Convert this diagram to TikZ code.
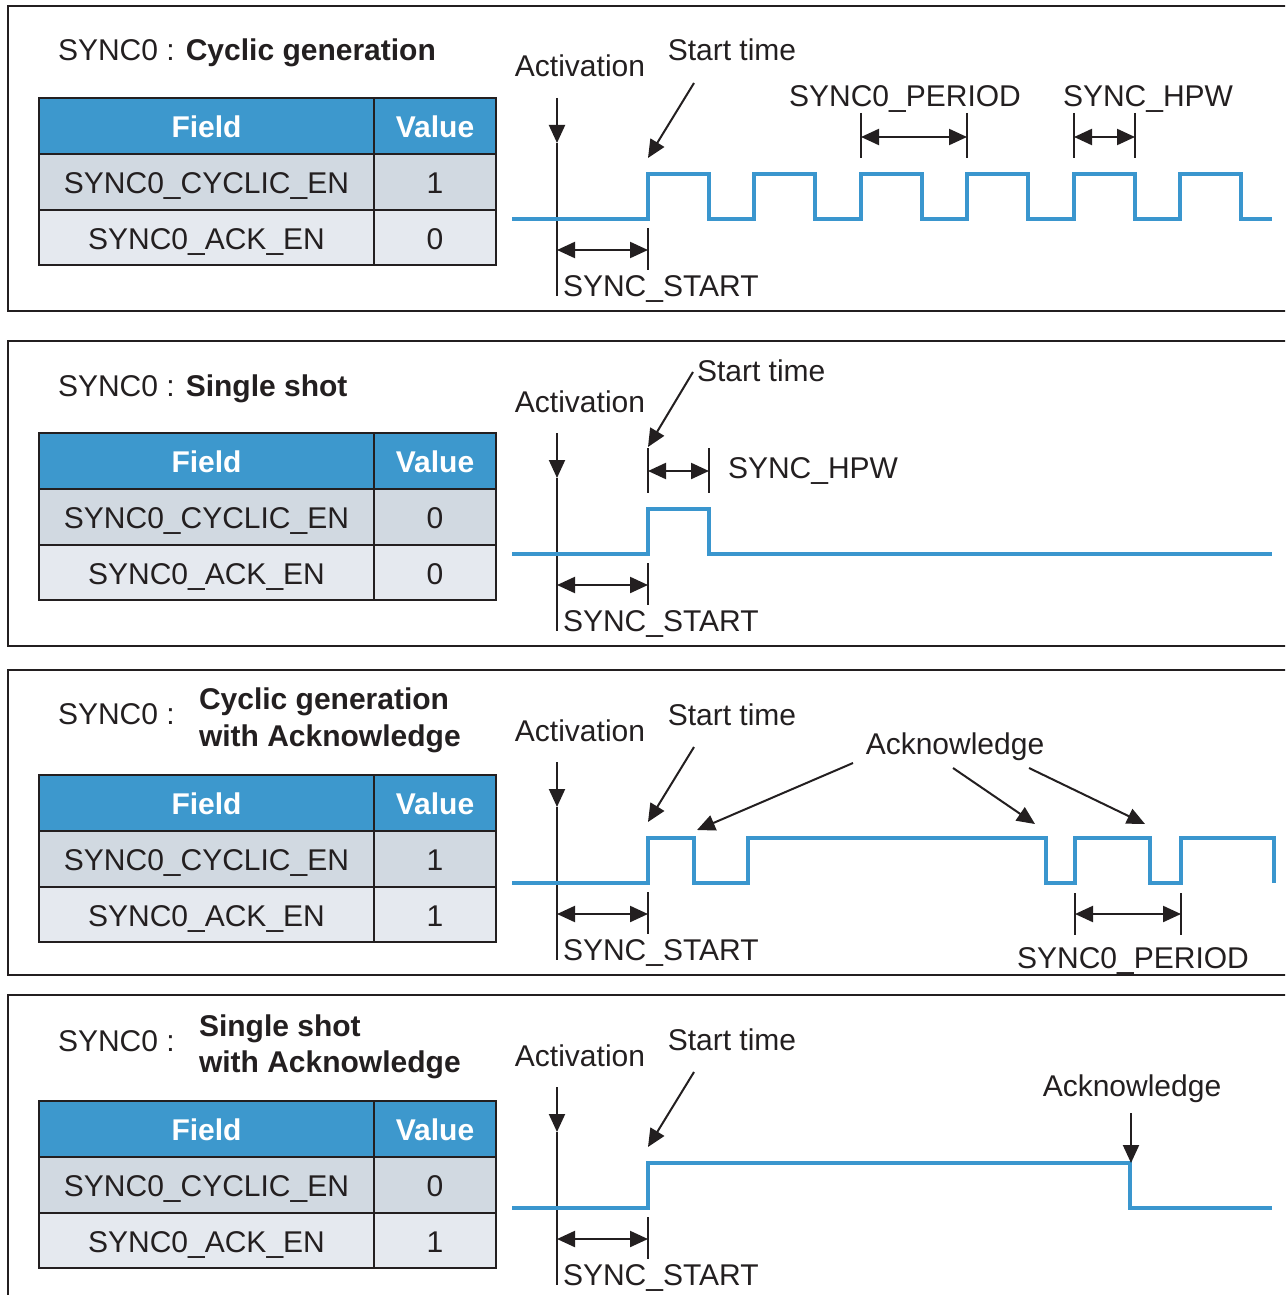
\documentclass[tikz,border=0pt]{standalone}
\usepackage{fontspec}
\setmainfont{Liberation Sans}
\usetikzlibrary{arrows.meta}
\definecolor{hdrblue}{RGB}{61,152,205}
\definecolor{rowdark}{RGB}{209,217,225}
\definecolor{rowlight}{RGB}{229,233,239}
\definecolor{sigblue}{RGB}{58,150,206}
\definecolor{inkgray}{RGB}{35,31,32}

\begin{document}
\begin{tikzpicture}[x=0.5pt,y=-0.5pt]
\tikzstyle{frame}=[line width=1.3pt,draw=inkgray]
\tikzstyle{cell}=[line width=1.4pt,draw=inkgray]
\tikzstyle{signal}=[line width=2pt,draw=sigblue]
\tikzstyle{pointer}=[line width=1pt,draw=inkgray,-{Triangle[length=9pt,width=8pt]}]
\tikzstyle{span}=[line width=1.1pt,draw=inkgray,{Triangle[length=9pt,width=8pt]}-{Triangle[length=9pt,width=8pt]}]
\tikzstyle{tick}=[line width=0.8pt,draw=inkgray]
\tikzstyle{txt}=[inner sep=0pt,outer sep=0pt,text=inkgray,font=\fontsize{15}{18}\selectfont]

\useasboundingbox (0,0) rectangle (1285,1295);
\clip (0,0) rectangle (1285,1295);

% frame, activation and SYNC_START are the same in every panel
\foreach \o in {0,335,664,989}{
\begin{scope}[shift={(0,\o)}]
	\draw[frame] (1290,6) -- (8,6) -- (8,311) -- (1290,311);
	\node[txt,anchor=base] (act\o) at (580,77) {Activation};
	\coordinate (acttop\o) at (557,98);
	\coordinate (acttip\o) at (557,143);
	\coordinate (actbot\o) at (557,296);
	\draw[pointer] (acttop\o) -- (acttip\o);
	\draw[tick] (acttip\o) -- (actbot\o);
	\coordinate (actmid\o) at (557,250);
	\coordinate (go\o) at (648,250);
	\draw[tick] (648,228) -- (648,270);
	\draw[span] (actmid\o) -- (go\o);
	\node[txt,anchor=base west] (start\o) at (563,296) {SYNC\_START};
\end{scope}
}

\foreach \o in {0,664,989}{
\begin{scope}[shift={(0,\o)}]
	\node[txt,anchor=base] (stime\o) at (732,61) {Start time};
	\coordinate (stfrom\o) at (694,83);
	\coordinate (stto\o) at (648,158);
	\draw[pointer] (stfrom\o) -- (stto\o);
\end{scope}
}

% tables
\foreach \t/\cyc/\ack in {0/1/0,335/0/0,677/1/1,1003/0/1}{
\begin{scope}[shift={(0,\t)}]
	\fill[hdrblue] (39,98) rectangle (496,154);
	\fill[rowdark] (39,154) rectangle (496,210);
	\fill[rowlight] (39,210) rectangle (496,265);
	\draw[cell] (39,98) rectangle (496,265);
	\draw[cell] (39,154) -- (496,154) (39,210) -- (496,210) (374,98) -- (374,265);
	\node[txt,anchor=base,text=white,font=\fontsize{15}{18}\selectfont\bfseries] (field\t) at (206.5,137) {Field};
	\node[txt,anchor=base,text=white,font=\fontsize{15}{18}\selectfont\bfseries] (value\t) at (435,137) {Value};
	\node[txt,anchor=base] (cycname\t) at (206.5,193) {SYNC0\_CYCLIC\_EN};
	\node[txt,anchor=base] (cycval\t) at (435,193) {\cyc};
	\node[txt,anchor=base] (ackname\t) at (206.5,249) {SYNC0\_ACK\_EN};
	\node[txt,anchor=base] (ackval\t) at (435,249) {\ack};
\end{scope}
}

% panel 1 : cyclic generation
\node[txt,anchor=base west] (title1) at (58,61) {SYNC0 : \textbf{Cyclic generation}};
\draw[signal] plot[] coordinates {(512,219) (648,219) (648,174) (709,174) (709,219) (754,219) (754,174) (815,174) (815,219) (861,219) (861,174) (922,174) (922,219) (967,219) (967,174) (1028,174) (1028,219) (1074,219) (1074,174) (1135,174) (1135,219) (1180,219) (1180,174) (1241,174) (1241,219) (1272,219)};
\node[txt,anchor=base] (period1) at (905,107) {SYNC0\_PERIOD};
\draw[tick] (861,113) -- (861,158) (967,113) -- (967,158);
\coordinate (pa1) at (861,137);
\coordinate (pb1) at (967,137);
\draw[span] (pa1) -- (pb1);
\node[txt,anchor=base] (hpw1) at (1148,107) {SYNC\_HPW};
\draw[tick] (1074,113) -- (1074,158) (1135,113) -- (1135,158);
\coordinate (ha1) at (1074,137);
\coordinate (hb1) at (1135,137);
\draw[span] (ha1) -- (hb1);

% panel 2 : single shot
\begin{scope}[shift={(0,335)}]
	\node[txt,anchor=base west] (title2) at (58,61) {SYNC0 : \textbf{Single shot}};
	\node[txt,anchor=base west] (stime2) at (697,46) {Start time};
	\coordinate (stfrom2) at (693,37);
	\coordinate (stto2) at (648,112);
	\draw[pointer] (stfrom2) -- (stto2);
	\draw[signal] plot[] coordinates {(512,219) (648,219) (648,174) (709,174) (709,219) (1272,219)};
	\draw[tick] (648,113) -- (648,158) (709,113) -- (709,158);
	\coordinate (ha2) at (648,136);
	\coordinate (hb2) at (709,136);
	\draw[span] (ha2) -- (hb2);
	\node[txt,anchor=base west] (hpw2) at (728,143) {SYNC\_HPW};
\end{scope}

% panel 3 : cyclic generation with acknowledge
\begin{scope}[shift={(0,664)}]
	\node[txt,anchor=base west] (title3) at (58,60) {SYNC0 :};
	\node[txt,anchor=base west,font=\fontsize{15}{18}\selectfont\bfseries] (mode3a) at (199,45) {Cyclic generation};
	\node[txt,anchor=base west,font=\fontsize{15}{18}\selectfont\bfseries] (mode3b) at (199,82) {with Acknowledge};
	\draw[signal] plot[] coordinates {(512,219) (648,219) (648,174) (694,174) (694,219) (748,219) (748,174) (1046,174) (1046,219) (1075,219) (1075,174) (1150,174) (1150,219) (1181,219) (1181,174) (1274,174) (1274,219)};
	\node[txt,anchor=base] (ack3) at (955,90) {Acknowledge};
	\coordinate (ackA) at (853,99);
	\coordinate (ackB) at (953,104);
	\coordinate (ackC) at (1029,104);
	\coordinate (fallA) at (697,166);
	\coordinate (fallB) at (1035,160);
	\coordinate (fallC) at (1145,160);
	\draw[pointer] (ackA) -- (fallA);
	\draw[pointer] (ackB) -- (fallB);
	\draw[pointer] (ackC) -- (fallC);
	\draw[tick] (1075,229) -- (1075,271) (1181,229) -- (1181,271);
	\coordinate (pa3) at (1075,250);
	\coordinate (pb3) at (1181,250);
	\draw[span] (pa3) -- (pb3);
	\node[txt,anchor=base] (period3) at (1133,304) {SYNC0\_PERIOD};
\end{scope}

% panel 4 : single shot with acknowledge
\begin{scope}[shift={(0,989)}]
	\node[txt,anchor=base west] (title4) at (58,62) {SYNC0 :};
	\node[txt,anchor=base west,font=\fontsize{15}{18}\selectfont\bfseries] (mode4a) at (199,47) {Single shot};
	\node[txt,anchor=base west,font=\fontsize{15}{18}\selectfont\bfseries] (mode4b) at (199,83) {with Acknowledge};
	\draw[signal] plot[] coordinates {(512,219) (648,219) (648,174) (1130,174) (1130,219) (1272,219)};
	\node[txt,anchor=base] (ack4) at (1132,107) {Acknowledge};
	\coordinate (ackD) at (1131,124);
	\coordinate (fallD) at (1131,174);
	\draw[pointer] (ackD) -- (fallD);
\end{scope}

\end{tikzpicture}
\end{document}
